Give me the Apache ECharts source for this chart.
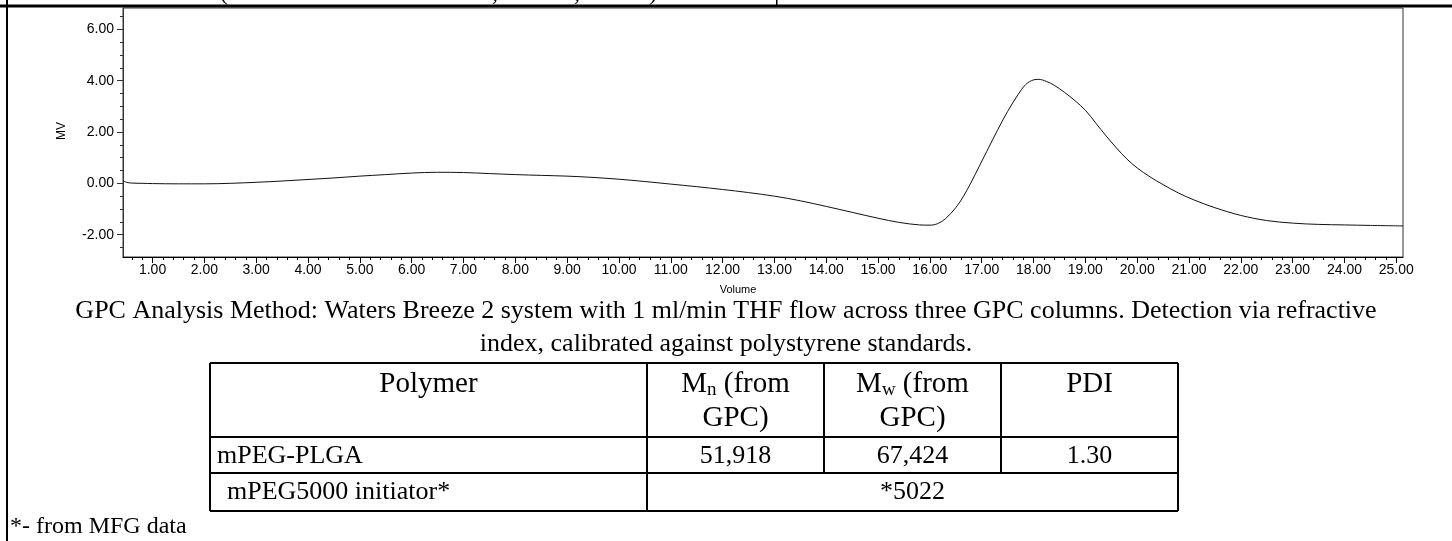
<!DOCTYPE html>
<html><head><meta charset="utf-8">
<script src="https://cdn.jsdelivr.net/npm/echarts@6/dist/echarts.min.js"></script>
<style>html,body{margin:0;padding:0;background:#fff}#c{width:1452px;height:541px}</style>
</head><body><div id="c"></div><script>
// ---- data ----
const volume = [0.43,0.50,0.60,0.80,1.00,1.50,2.00,2.50,3.00,3.50,4.00,4.50,5.00,5.50,6.00,6.50,7.00,7.50,8.00,8.50,9.00,9.50,10.00,10.50,11.00,11.50,12.00,12.50,13.00,13.50,14.00,14.50,15.00,15.40,15.80,16.00,16.15,16.30,16.50,16.65,16.80,16.95,17.10,17.30,17.50,17.70,17.85,18.00,18.10,18.25,18.40,18.60,18.80,19.00,19.20,19.40,19.60,19.80,20.00,20.25,20.50,20.80,21.10,21.50,22.00,22.50,23.00,23.50,24.00,24.50,25.13];
const mv = [0.10,0.04,0.01,0.00,-0.01,-0.02,-0.02,0.00,0.04,0.09,0.15,0.21,0.28,0.34,0.40,0.43,0.42,0.38,0.34,0.31,0.28,0.23,0.16,0.07,-0.03,-0.13,-0.24,-0.36,-0.50,-0.68,-0.90,-1.13,-1.36,-1.52,-1.62,-1.63,-1.57,-1.38,-0.95,-0.50,0.05,0.65,1.25,2.05,2.80,3.45,3.85,4.03,4.05,3.97,3.82,3.54,3.22,2.85,2.35,1.85,1.38,0.95,0.60,0.25,-0.05,-0.38,-0.65,-0.95,-1.25,-1.45,-1.55,-1.60,-1.62,-1.64,-1.66];
const xTickLabels = [1,2,3,4,5,6,7,8,9,10,11,12,13,14,15,16,17,18,19,20,21,22,23,24,25];
const yTickLabels = [-2,0,2,4,6];
const yMinorTicks = [-2.5,-1.5,-1,-0.5,0.5,1,1.5,2.5,3,3.5,4.5,5,5.5,6.5];
const methodLines = [
  'GPC Analysis Method: Waters Breeze 2 system with 1 ml/min THF flow across three GPC columns. Detection via refractive',
  'index, calibrated against polystyrene standards.'
];
const tableHeader = ['Polymer', ['M','n',' (from','GPC)'], ['M','w',' (from','GPC)'], 'PDI'];
const tableRow1 = ['mPEG-PLGA', '51,918', '67,424', '1.30'];
const tableRow2 = ['mPEG5000 initiator*', '*5022'];
const footnote = '*- from MFG data';

// minor x ticks every 0.2
const xMinorTicks = [];
for (let i = 3; i <= 125; i++) { if (i % 5 !== 0) xMinorTicks.push(+(i * 0.2).toFixed(1)); }

const chart = echarts.init(document.getElementById('c'), null, {renderer: 'canvas'});
const SANS = 'Liberation Sans, Arial, sans-serif';
const SERIF = 'Liberation Serif, Times New Roman, serif';
const fmt = v => Number(v).toFixed(2);

// table geometry
const colX = [210, 647, 824, 1001, 1178];
const rowY = [363, 437, 473, 511];
const T = 26, TH = 29;
const g = [];
function line(x1,y1,x2,y2,w){ g.push({type:'line', shape:{x1,y1,x2,y2}, style:{stroke:'#000', lineWidth:w||2}, z:10}); }
function txt(x,y,text,opt){ g.push(Object.assign({type:'text', x, y, style:Object.assign({text, fill:'#000', fontFamily:SERIF, fontSize:T, align:'center', verticalAlign:'middle'}, opt||{})}, {z:10})); }

// page frame
g.push({type:'rect', shape:{x:0,y:4.5,width:1452,height:3}, style:{fill:'#000'}, z:10});
g.push({type:'rect', shape:{x:6,y:0,width:2,height:541}, style:{fill:'#000'}, z:10});
g.push({type:'rect', shape:{x:776,y:0,width:1.5,height:6}, style:{fill:'#000'}, z:10});
// descenders of a text line cut off above the picture
[['(',224],[',',495],[',',577],[')',653]].forEach(([t,x]) => txt(x,6,t,{verticalAlign:'bottom', fontSize:24}));

// axis titles
g.push({type:'text', x:62, y:131, rotation:Math.PI/2, style:{text:'MV', fontFamily:SANS, fontSize:12, fill:'#000', align:'center', verticalAlign:'middle'}, z:10});
g.push({type:'text', x:738, y:290, style:{text:'Volume', fontFamily:SANS, fontSize:11, fill:'#000', align:'center', verticalAlign:'middle'}, z:10});

// method text
txt(726, 311, methodLines[0]);
txt(726, 344, methodLines[1]);

// table lines
line(colX[0], rowY[0], colX[4], rowY[0]);
line(colX[0], rowY[1], colX[4], rowY[1]);
line(colX[0], rowY[2], colX[4], rowY[2]);
line(colX[0], rowY[3], colX[4], rowY[3]);
line(colX[0], rowY[0], colX[0], rowY[3]);
line(colX[4], rowY[0], colX[4], rowY[3]);
line(colX[1], rowY[0], colX[1], rowY[3]);
line(colX[2], rowY[0], colX[2], rowY[2]);
line(colX[3], rowY[0], colX[3], rowY[2]);

const mid = i => (colX[i] + colX[i+1]) / 2;
const rich = {m:{fontFamily:SERIF, fontSize:TH, lineHeight:32, fill:'#000'}, s:{fontFamily:SERIF, fontSize:19, lineHeight:11, verticalAlign:'bottom', fill:'#000'}};
// header
tableHeader.forEach((h, i) => {
  if (typeof h === 'string') { txt(mid(i), 384, h, {fontSize:TH}); }
  else {
    txt(mid(i), 384, '{m|' + h[0] + '}{s|' + h[1] + '}{m|' + h[2] + '}', {rich});
    txt(mid(i), 418, h[3], {fontSize:TH});
  }
});
// row 1
txt(colX[0] + 7, 456, tableRow1[0], {align:'left'});
for (let i = 1; i < 4; i++) txt(mid(i), 456, tableRow1[i]);
// row 2
txt(colX[0] + 17, 492, tableRow2[0], {align:'left'});
txt((colX[1] + colX[4]) / 2, 492, tableRow2[1]);
// footnote
txt(10, 527, footnote, {align:'left', fontSize:24});

const xMin = 0.43, xMax = 25.13, yMin = -2.87, yMax = 6.83;
const axisCol = '#333';
chart.setOption({
  animation: false,
  backgroundColor: '#fff',
  grid: {left:123, top:8, width:1280, height:249, show:true, borderColor:axisCol, borderWidth:1, backgroundColor:'transparent'},
  xAxis: [
    {type:'value', min:xMin, max:xMax, position:'bottom',
     axisLine:{show:true, onZero:false, lineStyle:{color:'#000', width:1}},
     axisTick:{show:true, length:6, lineStyle:{color:'#000'}, customValues:xTickLabels},
     axisLabel:{show:true, customValues:xTickLabels, formatter:fmt, fontFamily:SANS, fontSize:14, color:'#000', margin:6},
     splitLine:{show:false}},
    {type:'value', min:xMin, max:xMax, position:'bottom', offset:0,
     axisLine:{show:false, onZero:false},
     axisTick:{show:true, length:3, lineStyle:{color:'#000'}, customValues:xMinorTicks},
     axisLabel:{show:false}, splitLine:{show:false}}
  ],
  yAxis: [
    {type:'value', min:yMin, max:yMax, position:'left',
     axisLine:{show:true, onZero:false, lineStyle:{color:axisCol, width:1}},
     axisTick:{show:true, length:6, lineStyle:{color:axisCol}, customValues:yTickLabels},
     axisLabel:{show:true, customValues:yTickLabels, formatter:fmt, fontFamily:SANS, fontSize:14, color:'#000', margin:9},
     splitLine:{show:false}},
    {type:'value', min:yMin, max:yMax, position:'left', offset:0,
     axisLine:{show:false, onZero:false},
     axisTick:{show:true, length:3, lineStyle:{color:axisCol}, customValues:yMinorTicks},
     axisLabel:{show:false}, splitLine:{show:false}}
  ],
  series: [{
    type:'line', xAxisIndex:0, yAxisIndex:0, showSymbol:false, symbol:'none', smooth:0.35,
    lineStyle:{color:'#111', width:1},
    data: volume.map((v, i) => [v, mv[i]])
  }],
  graphic: g
});
</script></body></html>
